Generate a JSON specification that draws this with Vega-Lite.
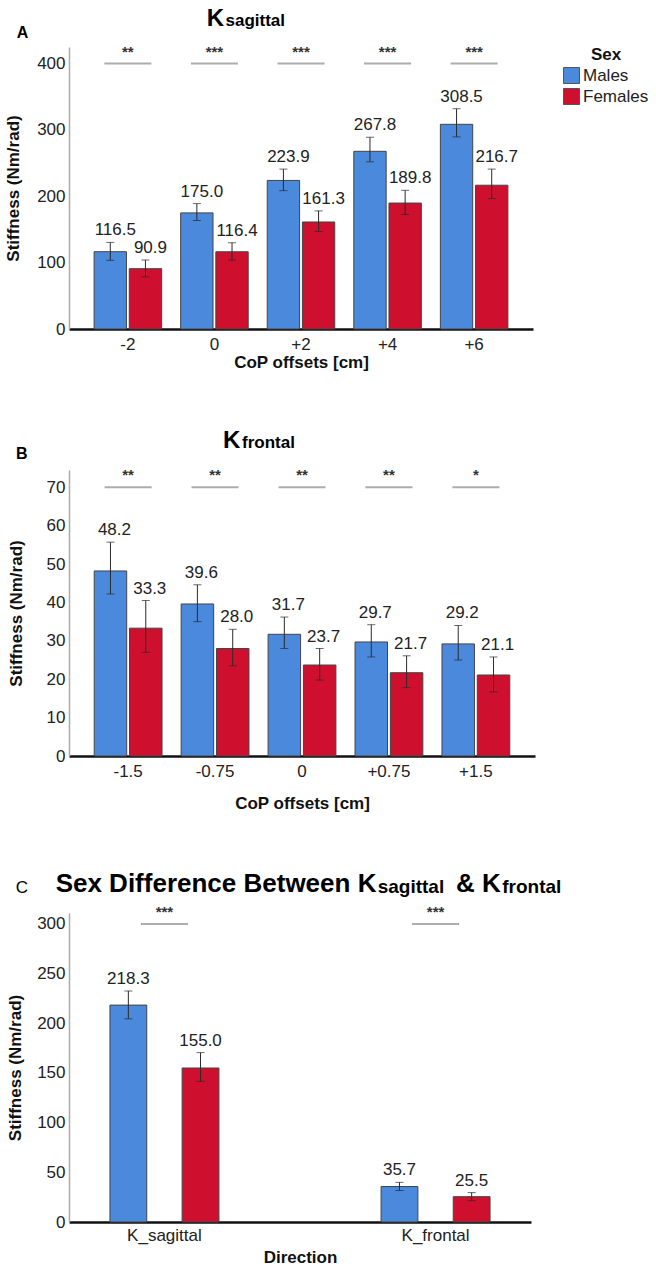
{
  "$schema": "https://vega.github.io/schema/vega-lite/v6.json",
  "padding": {"left": 4, "top": 6, "right": 2, "bottom": 2},
  "spacing": 59,
  "resolve": {"scale": {"color": "independent", "xOffset": "independent"}, "legend": {"color": "independent"}},
  "config": {
    "font": "Liberation Sans",
    "view": {"stroke": null},
    "axis": {"grid": false, "ticks": false, "labelFontSize": 17, "labelColor": "#222", "titleFontSize": 17, "titleFontWeight": "bold", "titleColor": "#111"},
    "axisY": {"domainColor": "#aaaaaa", "domainWidth": 1.5, "labelPadding": 4, "titlePadding": 14},
    "axisX": {"domainColor": "#111", "domainWidth": 2.5, "labelAngle": 0, "labelPadding": 7, "titlePadding": 10},
    "title": {"color": "#000", "subtitleColor": "#000"}
  },
  "datasets": {
    "a": [
      {"cat": "-2", "sex": "Males", "mean": 116.5, "lo": 103.5, "hi": 130.5},
      {"cat": "-2", "sex": "Females", "mean": 90.9, "lo": 78.5, "hi": 104.0},
      {"cat": "0", "sex": "Males", "mean": 175.0, "lo": 163.5, "hi": 189.0},
      {"cat": "0", "sex": "Females", "mean": 116.4, "lo": 104.0, "hi": 130.0},
      {"cat": "+2", "sex": "Males", "mean": 223.9, "lo": 208.5, "hi": 241.0},
      {"cat": "+2", "sex": "Females", "mean": 161.3, "lo": 147.0, "hi": 178.0},
      {"cat": "+4", "sex": "Males", "mean": 267.8, "lo": 252.0, "hi": 289.0},
      {"cat": "+4", "sex": "Females", "mean": 189.8, "lo": 172.5, "hi": 209.0},
      {"cat": "+6", "sex": "Males", "mean": 308.5, "lo": 289.5, "hi": 332.0},
      {"cat": "+6", "sex": "Females", "mean": 216.7, "lo": 196.5, "hi": 241.0}
    ],
    "sa": [
      {"cat": "-2", "stars": "**", "y": 400},
      {"cat": "0", "stars": "***", "y": 400},
      {"cat": "+2", "stars": "***", "y": 400},
      {"cat": "+4", "stars": "***", "y": 400},
      {"cat": "+6", "stars": "***", "y": 400}
    ],
    "b": [
      {"cat": "-1.5", "sex": "Males", "mean": 48.2, "lo": 42.2, "hi": 55.7},
      {"cat": "-1.5", "sex": "Females", "mean": 33.3, "lo": 27.0, "hi": 40.5},
      {"cat": "-0.75", "sex": "Males", "mean": 39.6, "lo": 35.0, "hi": 44.6},
      {"cat": "-0.75", "sex": "Females", "mean": 28.0, "lo": 23.5, "hi": 33.0},
      {"cat": "0", "sex": "Males", "mean": 31.7, "lo": 28.0, "hi": 36.2},
      {"cat": "0", "sex": "Females", "mean": 23.7, "lo": 19.8, "hi": 28.0},
      {"cat": "+0.75", "sex": "Males", "mean": 29.7, "lo": 25.8, "hi": 34.2},
      {"cat": "+0.75", "sex": "Females", "mean": 21.7, "lo": 17.8, "hi": 26.1},
      {"cat": "+1.5", "sex": "Males", "mean": 29.2, "lo": 25.0, "hi": 34.0},
      {"cat": "+1.5", "sex": "Females", "mean": 21.1, "lo": 16.7, "hi": 25.8}
    ],
    "sb": [
      {"cat": "-1.5", "stars": "**", "y": 70},
      {"cat": "-0.75", "stars": "**", "y": 70},
      {"cat": "0", "stars": "**", "y": 70},
      {"cat": "+0.75", "stars": "**", "y": 70},
      {"cat": "+1.5", "stars": "*", "y": 70}
    ],
    "c": [
      {"cat": "K_sagittal", "sex": "Males", "mean": 218.3, "lo": 204.5, "hi": 232.5},
      {"cat": "K_sagittal", "sex": "Females", "mean": 155.0, "lo": 141.5, "hi": 170.5},
      {"cat": "K_frontal", "sex": "Males", "mean": 35.7, "lo": 31.7, "hi": 39.9},
      {"cat": "K_frontal", "sex": "Females", "mean": 25.5, "lo": 21.5, "hi": 29.6}
    ],
    "sc": [
      {"cat": "K_sagittal", "stars": "***", "y": 300},
      {"cat": "K_frontal", "stars": "***", "y": 300}
    ]
  },
  "vconcat": [
    {
      "title": {"text": "K", "subtitle": "\u200b\u00a0\u00a0\u00a0\u00a0sagittal", "anchor": "start", "fontSize": 24, "fontWeight": "bold", "subtitleFontSize": 17, "subtitleFontWeight": "bold", "subtitlePadding": -18, "dx": 202, "offset": -6},
      "vconcat": [
        {
          "title": {"text": "A", "anchor": "start", "fontSize": 16, "fontWeight": "bold", "dx": 12, "offset": 4},
          "width": 464,
          "height": 282,
          "layer": [
            {
              "data": {"name": "a"},
              "mark": {"type": "bar", "stroke": "#444", "strokeWidth": 1},
              "encoding": {
                "x": {"field": "cat", "type": "nominal", "scale": {"domain": ["-2", "0", "+2", "+4", "+6"], "paddingInner": 0.22, "paddingOuter": 0.29}, "axis": {"title": "CoP offsets [cm]", "titlePadding": 2}},
                "xOffset": {"field": "sex", "type": "nominal", "scale": {"domain": ["Males", "Females"], "paddingInner": 0.08}},
                "y": {"field": "mean", "type": "quantitative", "scale": {"domain": [0, 425], "nice": false}, "axis": {"title": "Stiffness (Nm/rad)", "values": [0, 100, 200, 300, 400], "titlePadding": 14}},
                "color": {"field": "sex", "type": "nominal", "scale": {"domain": ["Males", "Females"], "range": ["#4a89dc", "#cf0f2e"]}, "legend": {"title": "Sex", "orient": "right", "offset": 30, "titleFontSize": 17, "titleFontWeight": "bold", "titleColor": "#111", "titleAnchor": "middle", "titlePadding": 3, "labelFontSize": 17, "labelColor": "#222", "labelOffset": 3, "symbolType": "square", "symbolSize": 256, "symbolStrokeColor": "#555", "symbolStrokeWidth": 1, "rowPadding": 0}}
              }
            },
            {
              "data": {"name": "a"},
              "mark": {"type": "rule", "color": "#2b2b2b", "strokeWidth": 1},
              "encoding": {
                "x": {"field": "cat", "type": "nominal"},
                "xOffset": {"field": "sex", "type": "nominal"},
                "y": {"field": "lo", "type": "quantitative", "title": "Stiffness (Nm/rad)"},
                "y2": {"field": "hi"}
              }
            },
            {
              "data": {"name": "a"},
              "mark": {"type": "tick", "color": "#2b2b2b", "size": 8, "thickness": 1},
              "encoding": {
                "x": {"field": "cat", "type": "nominal"},
                "xOffset": {"field": "sex", "type": "nominal"},
                "y": {"field": "lo", "type": "quantitative", "title": "Stiffness (Nm/rad)"}
              }
            },
            {
              "data": {"name": "a"},
              "mark": {"type": "tick", "color": "#2b2b2b", "size": 8, "thickness": 1},
              "encoding": {
                "x": {"field": "cat", "type": "nominal"},
                "xOffset": {"field": "sex", "type": "nominal"},
                "y": {"field": "hi", "type": "quantitative", "title": "Stiffness (Nm/rad)"}
              }
            },
            {
              "data": {"name": "a"},
              "mark": {"type": "text", "dy": -7, "dx": 5, "baseline": "alphabetic", "fontSize": 17, "color": "#222"},
              "encoding": {
                "x": {"field": "cat", "type": "nominal"},
                "xOffset": {"field": "sex", "type": "nominal"},
                "y": {"field": "hi", "type": "quantitative", "title": "Stiffness (Nm/rad)"},
                "text": {"field": "mean", "type": "quantitative", "format": ".1f"}
              }
            },
            {
              "data": {"name": "sa"},
              "mark": {"type": "tick", "color": "#8a8a8a", "size": 47, "thickness": 2},
              "encoding": {
                "x": {"field": "cat", "type": "nominal"},
                "y": {"field": "y", "type": "quantitative", "title": "Stiffness (Nm/rad)"}
              }
            },
            {
              "data": {"name": "sa"},
              "mark": {"type": "text", "dy": -7, "baseline": "alphabetic", "fontSize": 15, "fontWeight": "bold", "color": "#333"},
              "encoding": {
                "x": {"field": "cat", "type": "nominal"},
                "y": {"field": "y", "type": "quantitative", "title": "Stiffness (Nm/rad)"},
                "text": {"field": "stars"}
              }
            }
          ]
        }
      ]
    },
    {
      "title": {"text": "K", "subtitle": "\u200b\u00a0\u00a0\u00a0\u00a0frontal", "anchor": "start", "fontSize": 24, "fontWeight": "bold", "subtitleFontSize": 17, "subtitleFontWeight": "bold", "subtitlePadding": -18, "dx": 216, "offset": -7},
      "vconcat": [
        {
          "title": {"text": "B", "anchor": "start", "fontSize": 16, "fontWeight": "bold", "dx": 9, "offset": 6},
          "width": 466,
          "height": 286,
          "layer": [
            {
              "data": {"name": "b"},
              "mark": {"type": "bar", "stroke": "#444", "strokeWidth": 1},
              "encoding": {
                "x": {"field": "cat", "type": "nominal", "scale": {"domain": ["-1.5", "-0.75", "0", "+0.75", "+1.5"], "paddingInner": 0.22, "paddingOuter": 0.29}, "axis": {"title": "CoP offsets [cm]", "titlePadding": 16}},
                "xOffset": {"field": "sex", "type": "nominal", "scale": {"domain": ["Males", "Females"], "paddingInner": 0.08}},
                "y": {"field": "mean", "type": "quantitative", "scale": {"domain": [0, 74.5], "nice": false}, "axis": {"title": "Stiffness (Nm/rad)", "values": [0, 10, 20, 30, 40, 50, 60, 70], "titlePadding": 21}},
                "color": {"field": "sex", "type": "nominal", "scale": {"domain": ["Males", "Females"], "range": ["#4a89dc", "#cf0f2e"]}, "legend": null}
              }
            },
            {
              "data": {"name": "b"},
              "mark": {"type": "rule", "color": "#2b2b2b", "strokeWidth": 1},
              "encoding": {
                "x": {"field": "cat", "type": "nominal"},
                "xOffset": {"field": "sex", "type": "nominal"},
                "y": {"field": "lo", "type": "quantitative", "title": "Stiffness (Nm/rad)"},
                "y2": {"field": "hi"}
              }
            },
            {
              "data": {"name": "b"},
              "mark": {"type": "tick", "color": "#2b2b2b", "size": 8, "thickness": 1},
              "encoding": {
                "x": {"field": "cat", "type": "nominal"},
                "xOffset": {"field": "sex", "type": "nominal"},
                "y": {"field": "lo", "type": "quantitative", "title": "Stiffness (Nm/rad)"}
              }
            },
            {
              "data": {"name": "b"},
              "mark": {"type": "tick", "color": "#2b2b2b", "size": 8, "thickness": 1},
              "encoding": {
                "x": {"field": "cat", "type": "nominal"},
                "xOffset": {"field": "sex", "type": "nominal"},
                "y": {"field": "hi", "type": "quantitative", "title": "Stiffness (Nm/rad)"}
              }
            },
            {
              "data": {"name": "b"},
              "mark": {"type": "text", "dy": -7, "dx": 4, "baseline": "alphabetic", "fontSize": 17, "color": "#222"},
              "encoding": {
                "x": {"field": "cat", "type": "nominal"},
                "xOffset": {"field": "sex", "type": "nominal"},
                "y": {"field": "hi", "type": "quantitative", "title": "Stiffness (Nm/rad)"},
                "text": {"field": "mean", "type": "quantitative", "format": ".1f"}
              }
            },
            {
              "data": {"name": "sb"},
              "mark": {"type": "tick", "color": "#8a8a8a", "size": 47, "thickness": 2},
              "encoding": {
                "x": {"field": "cat", "type": "nominal"},
                "y": {"field": "y", "type": "quantitative", "title": "Stiffness (Nm/rad)"}
              }
            },
            {
              "data": {"name": "sb"},
              "mark": {"type": "text", "dy": -7, "baseline": "alphabetic", "fontSize": 15, "fontWeight": "bold", "color": "#333"},
              "encoding": {
                "x": {"field": "cat", "type": "nominal"},
                "y": {"field": "y", "type": "quantitative", "title": "Stiffness (Nm/rad)"},
                "text": {"field": "stars"}
              }
            }
          ]
        }
      ]
    },
    {
      "title": {"text": "C", "anchor": "start", "fontSize": 17, "fontWeight": "normal", "dx": 9, "dy": 26, "offset": 0},
      "vconcat": [
        {
          "title": {"text": "Sex Difference Between K\u00a0\u00a0\u00a0\u00a0\u00a0\u00a0\u00a0\u00a0\u00a0\u00a0\u00a0&\u00a0K", "subtitle": "\u200b\u00a0\u00a0\u00a0\u00a0\u00a0\u00a0\u00a0\u00a0\u00a0\u00a0\u00a0\u00a0\u00a0\u00a0\u00a0\u00a0\u00a0\u00a0\u00a0\u00a0\u00a0\u00a0\u00a0\u00a0\u00a0\u00a0\u00a0\u00a0\u00a0\u00a0\u00a0\u00a0\u00a0\u00a0\u00a0\u00a0\u00a0\u00a0\u00a0\u00a0\u00a0\u00a0\u00a0\u00a0\u00a0\u00a0\u00a0\u00a0\u00a0\u00a0\u00a0\u00a0\u00a0\u00a0\u00a0\u00a0\u00a0\u00a0\u00a0\u00a0\u00a0sagittal\u00a0\u00a0\u00a0\u00a0\u00a0\u00a0\u00a0\u00a0\u00a0\u00a0\u00a0frontal", "anchor": "start", "fontSize": 26, "fontWeight": "bold", "subtitleFontSize": 19, "subtitleFontWeight": "bold", "subtitlePadding": -19, "dx": 49, "offset": 8},
          "width": 462,
          "height": 309,
          "layer": [
            {
              "data": {"name": "c"},
              "mark": {"type": "bar", "stroke": "#444", "strokeWidth": 1},
              "encoding": {
                "x": {"field": "cat", "type": "nominal", "scale": {"domain": ["K_sagittal", "K_frontal"], "paddingInner": 0.598, "paddingOuter": 0.151}, "axis": {"title": "Direction", "labelPadding": 5, "titlePadding": 6}},
                "xOffset": {"field": "sex", "type": "nominal", "scale": {"domain": ["Males", "Females"], "paddingInner": 0.49}},
                "y": {"field": "mean", "type": "quantitative", "scale": {"domain": [0, 311], "nice": false}, "axis": {"title": "Stiffness (Nm/rad)", "values": [0, 50, 100, 150, 200, 250, 300], "titlePadding": 12}},
                "color": {"field": "sex", "type": "nominal", "scale": {"domain": ["Males", "Females"], "range": ["#4a89dc", "#cf0f2e"]}, "legend": null}
              }
            },
            {
              "data": {"name": "c"},
              "mark": {"type": "rule", "color": "#2b2b2b", "strokeWidth": 1},
              "encoding": {
                "x": {"field": "cat", "type": "nominal"},
                "xOffset": {"field": "sex", "type": "nominal"},
                "y": {"field": "lo", "type": "quantitative", "title": "Stiffness (Nm/rad)"},
                "y2": {"field": "hi"}
              }
            },
            {
              "data": {"name": "c"},
              "mark": {"type": "tick", "color": "#2b2b2b", "size": 8, "thickness": 1},
              "encoding": {
                "x": {"field": "cat", "type": "nominal"},
                "xOffset": {"field": "sex", "type": "nominal"},
                "y": {"field": "lo", "type": "quantitative", "title": "Stiffness (Nm/rad)"}
              }
            },
            {
              "data": {"name": "c"},
              "mark": {"type": "tick", "color": "#2b2b2b", "size": 8, "thickness": 1},
              "encoding": {
                "x": {"field": "cat", "type": "nominal"},
                "xOffset": {"field": "sex", "type": "nominal"},
                "y": {"field": "hi", "type": "quantitative", "title": "Stiffness (Nm/rad)"}
              }
            },
            {
              "data": {"name": "c"},
              "mark": {"type": "text", "dy": -7, "baseline": "alphabetic", "fontSize": 17, "color": "#222"},
              "encoding": {
                "x": {"field": "cat", "type": "nominal"},
                "xOffset": {"field": "sex", "type": "nominal"},
                "y": {"field": "hi", "type": "quantitative", "title": "Stiffness (Nm/rad)"},
                "text": {"field": "mean", "type": "quantitative", "format": ".1f"}
              }
            },
            {
              "data": {"name": "sc"},
              "mark": {"type": "tick", "color": "#8a8a8a", "size": 47, "thickness": 2},
              "encoding": {
                "x": {"field": "cat", "type": "nominal"},
                "y": {"field": "y", "type": "quantitative", "title": "Stiffness (Nm/rad)"}
              }
            },
            {
              "data": {"name": "sc"},
              "mark": {"type": "text", "dy": -7, "baseline": "alphabetic", "fontSize": 15, "fontWeight": "bold", "color": "#333"},
              "encoding": {
                "x": {"field": "cat", "type": "nominal"},
                "y": {"field": "y", "type": "quantitative", "title": "Stiffness (Nm/rad)"},
                "text": {"field": "stars"}
              }
            }
          ]
        }
      ]
    }
  ]
}
